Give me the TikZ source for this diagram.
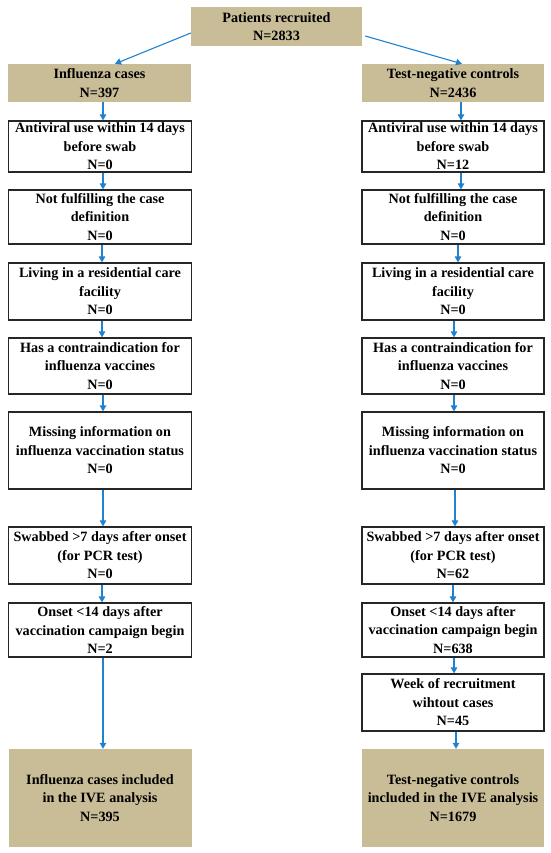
\documentclass[tikz,border=0pt]{standalone}
\usepackage{fontspec}
\setmainfont{Liberation Serif}
\usetikzlibrary{arrows.meta}
\definecolor{tanfill}{RGB}{201,189,151}
\definecolor{arrblue}{RGB}{32,130,207}
\tikzset{
  base/.style={rectangle, align=center, inner sep=0pt,
    font=\fontsize{14.2}{18.5}\selectfont\bfseries},
  tanbox/.style={base, fill=tanfill},
  whitebox/.style={base, draw=black!85, line width=1.2pt, fill=white},
  arr/.style={draw=arrblue, line width=1.1pt, -{Triangle[length=6pt,width=6.5pt]}}
}
\begin{document}
\begin{tikzpicture}[x=1pt,y=-1pt]
\useasboundingbox (0,0) rectangle (550,853);
% top
\node[tanbox, minimum width=171pt, minimum height=39pt] (top) at (276.5,26.5) {Patients recruited\\N=2833};
\node[tanbox, minimum width=183pt, minimum height=38pt] (L0) at (99.5,83) {Influenza cases\\N=397};
\node[tanbox, minimum width=182pt, minimum height=38pt] (R0) at (453,83) {Test-negative controls\\N=2436};
% left column
\node[whitebox, minimum width=183pt, minimum height=51pt] (L1) at (100,146.5) {Antiviral use within 14 days\\before swab\\N=0};
\node[whitebox, minimum width=183pt, minimum height=54pt] (L2) at (100,217) {Not fulfilling the case\\definition\\N=0};
\node[whitebox, minimum width=183pt, minimum height=57pt] (L3) at (100,291.5) {Living in a residential care\\facility\\N=0};
\node[whitebox, minimum width=183pt, minimum height=56pt] (L4) at (100,366) {Has a contraindication for\\influenza vaccines\\N=0};
\node[whitebox, minimum width=183pt, minimum height=77pt] (L5) at (100,450.5) {Missing information on\\influenza vaccination status\\N=0};
\node[whitebox, minimum width=183pt, minimum height=57pt] (L6) at (100,555.5) {Swabbed >7 days after onset\\(for PCR test)\\N=0};
\node[whitebox, minimum width=183pt, minimum height=54pt] (L7) at (100,630) {Onset <14 days after\\vaccination campaign begin\\N=2};
\node[tanbox, minimum width=183pt, minimum height=98pt] (LF) at (100,798) {Influenza cases included\\in the IVE analysis\\N=395};
% right column
\node[whitebox, minimum width=182pt, minimum height=51pt] (R1) at (453,146.5) {Antiviral use within 14 days\\before swab\\N=12};
\node[whitebox, minimum width=182pt, minimum height=54pt] (R2) at (453,217) {Not fulfilling the case\\definition\\N=0};
\node[whitebox, minimum width=182pt, minimum height=57pt] (R3) at (453,291.5) {Living in a residential care\\facility\\N=0};
\node[whitebox, minimum width=182pt, minimum height=56pt] (R4) at (453,366) {Has a contraindication for\\influenza vaccines\\N=0};
\node[whitebox, minimum width=182pt, minimum height=77pt] (R5) at (453,450.5) {Missing information on\\influenza vaccination status\\N=0};
\node[whitebox, minimum width=182pt, minimum height=57pt] (R6) at (453,555.5) {Swabbed >7 days after onset\\(for PCR test)\\N=62};
\node[whitebox, minimum width=182pt, minimum height=54pt] (R7) at (453,630) {Onset <14 days after\\vaccination campaign begin\\N=638};
\node[whitebox, minimum width=182pt, minimum height=57pt] (R8) at (453,702.5) {Week of recruitment\\wihtout cases\\N=45};
\node[tanbox, minimum width=182pt, minimum height=98pt] (RF) at (453,798) {Test-negative controls\\included in the IVE analysis\\N=1679};
% diagonal arrows
\draw[arr] ([yshift=-6.5pt]top.west) -- ([xshift=15.5pt]L0.north);
\draw[arr] ([xshift=3pt,yshift=-9.5pt]top.east) -- ([xshift=9pt]R0.north);
% left arrows
\draw[arr] (L0.south -| 103,0) -- (L1.north -| 103,0);
\draw[arr] (L1.south -| 103,0) -- (L2.north -| 103,0);
\draw[arr] (L2.south -| 102,0) -- (L3.north -| 102,0);
\draw[arr] (L3.south -| 102,0) -- (L4.north -| 102,0);
\draw[arr] (L4.south -| 103,0) -- (L5.north -| 103,0);
\draw[arr] (L5.south -| 103,0) -- (L6.north -| 103,0);
\draw[arr] (L6.south -| 102,0) -- (L7.north -| 102,0);
\draw[arr] (L7.south -| 103,0) -- (LF.north -| 103,0);
% right arrows
\draw[arr] (R0.south -| 461,0) -- (R1.north -| 461,0);
\draw[arr] (R1.south -| 461,0) -- (R2.north -| 461,0);
\draw[arr] (R2.south -| 458,0) -- (R3.north -| 458,0);
\draw[arr] (R3.south -| 454,0) -- (R4.north -| 454,0);
\draw[arr] (R4.south -| 454,0) -- (R5.north -| 454,0);
\draw[arr] (R5.south -| 455,0) -- (R6.north -| 455,0);
\draw[arr] (R6.south -| 453,0) -- (R7.north -| 453,0);
\draw[arr] (R7.south -| 454,0) -- (R8.north -| 454,0);
\draw[arr] (R8.south -| 456,0) -- (RF.north -| 456,0);
\end{tikzpicture}
\end{document}
